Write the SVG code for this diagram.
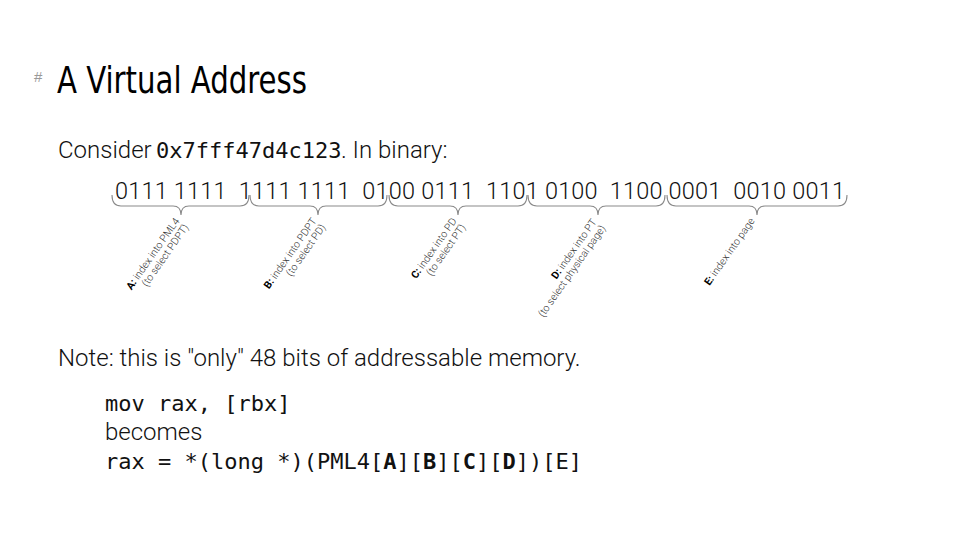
<svg xmlns="http://www.w3.org/2000/svg" width="960" height="540" viewBox="0 0 960 540">
<style>
.title{font-family:"DejaVu Sans","Liberation Sans",sans-serif;font-stretch:condensed;font-size:38px;fill:#000;}
.hash{font-family:"Liberation Sans","DejaVu Sans",sans-serif;font-size:15px;fill:#999;}
.body{font-family:Roboto,"Liberation Sans",sans-serif;font-weight:300;font-size:24px;fill:#111;}
.mono{font-family:"DejaVu Sans Mono","Liberation Mono",monospace;font-size:22px;fill:#111;font-weight:normal;}
.bin{font-family:Roboto,"Liberation Sans",sans-serif;font-weight:300;font-size:23.5px;fill:#111;}
.brace{fill:none;stroke:#8a8a8a;stroke-width:1.1;}
.lbl{font-family:Roboto,"Liberation Sans",sans-serif;font-weight:300;font-size:10.3px;fill:#333;text-anchor:end;}
.lbl .k{font-weight:bold;fill:#000;}
.b{font-weight:bold;}
</style>
<rect width="960" height="540" fill="#fff"/>
<g id="title">
<text class="hash" x="34" y="82">#</text>
<text class="title" x="57" y="93" textLength="250" lengthAdjust="spacingAndGlyphs">A Virtual Address</text>
</g>
<g id="intro">
<text class="body" x="58" y="158">Consider <tspan class="mono" x="156">0x7fff47d4c123</tspan><tspan x="341">. In binary:</tspan></text>
</g>
<g id="binary">
<text class="bin" x="115" y="199" textLength="730" lengthAdjust="spacing" xml:space="preserve">0111 1111  1111 1111  0100 0111  1101 0100  1100 0001  0010 0011</text>
</g>
<g id="connectors">
<path class="brace" d="M112,195 Q112,206 121,206 L173,206 Q181,206 181,215 Q181,206 189,206 L240,206 Q249,206 249,195"/>
<path class="brace" d="M250,195 Q250,206 259,206 L310,206 Q318,206 318,215 Q318,206 326,206 L378,206 Q387,206 387,195"/>
<path class="brace" d="M389,195 Q389,206 398,206 L450,206 Q458,206 458,215 Q458,206 466,206 L518,206 Q527,206 527,195"/>
<path class="brace" d="M528,195 Q528,206 537,206 L590,206 Q598,206 598,215 Q598,206 606,206 L656,206 Q665,206 665,195"/>
<path class="brace" d="M667,195 Q667,206 676,206 L749,206 Q757,206 757,215 Q757,206 765,206 L838,206 Q847,206 847,195"/>
</g>
<g id="label-A" transform="translate(180,221) rotate(-55)">
<text class="lbl" x="0" y="0"><tspan class="k">A:</tspan> index into PML4</text>
<text class="lbl" x="0" y="11">(to select PDPT)</text>
</g>
<g id="label-B" transform="translate(317,221) rotate(-55)">
<text class="lbl" x="0" y="0"><tspan class="k">B:</tspan> index into PDPT</text>
<text class="lbl" x="0" y="11">(to select PD)</text>
</g>
<g id="label-C" transform="translate(457,221) rotate(-55)">
<text class="lbl" x="0" y="0"><tspan class="k">C:</tspan> index into PD</text>
<text class="lbl" x="0" y="11">(to select PT)</text>
</g>
<g id="label-D" transform="translate(597,222) rotate(-55)">
<text class="lbl" x="0" y="0"><tspan class="k">D:</tspan> index into PT</text>
<text class="lbl" x="0" y="11">(to select physical page)</text>
</g>
<g id="label-E" transform="translate(755,221) rotate(-55)">
<text class="lbl" x="0" y="0"><tspan class="k">E:</tspan> index into page</text>
</g>
<g id="note">
<text class="body" x="58" y="366">Note: this is "only" 48 bits of addressable memory.</text>
</g>
<g id="code">
<text class="mono" x="105" y="411">mov rax, [rbx]</text>
<text class="body" x="105" y="440">becomes</text>
<text class="mono" x="105" y="469">rax = *(long *)(PML4[<tspan class="b">A</tspan>][<tspan class="b">B</tspan>][<tspan class="b">C</tspan>][<tspan class="b">D</tspan>])[E]</text>
</g>
</svg>
